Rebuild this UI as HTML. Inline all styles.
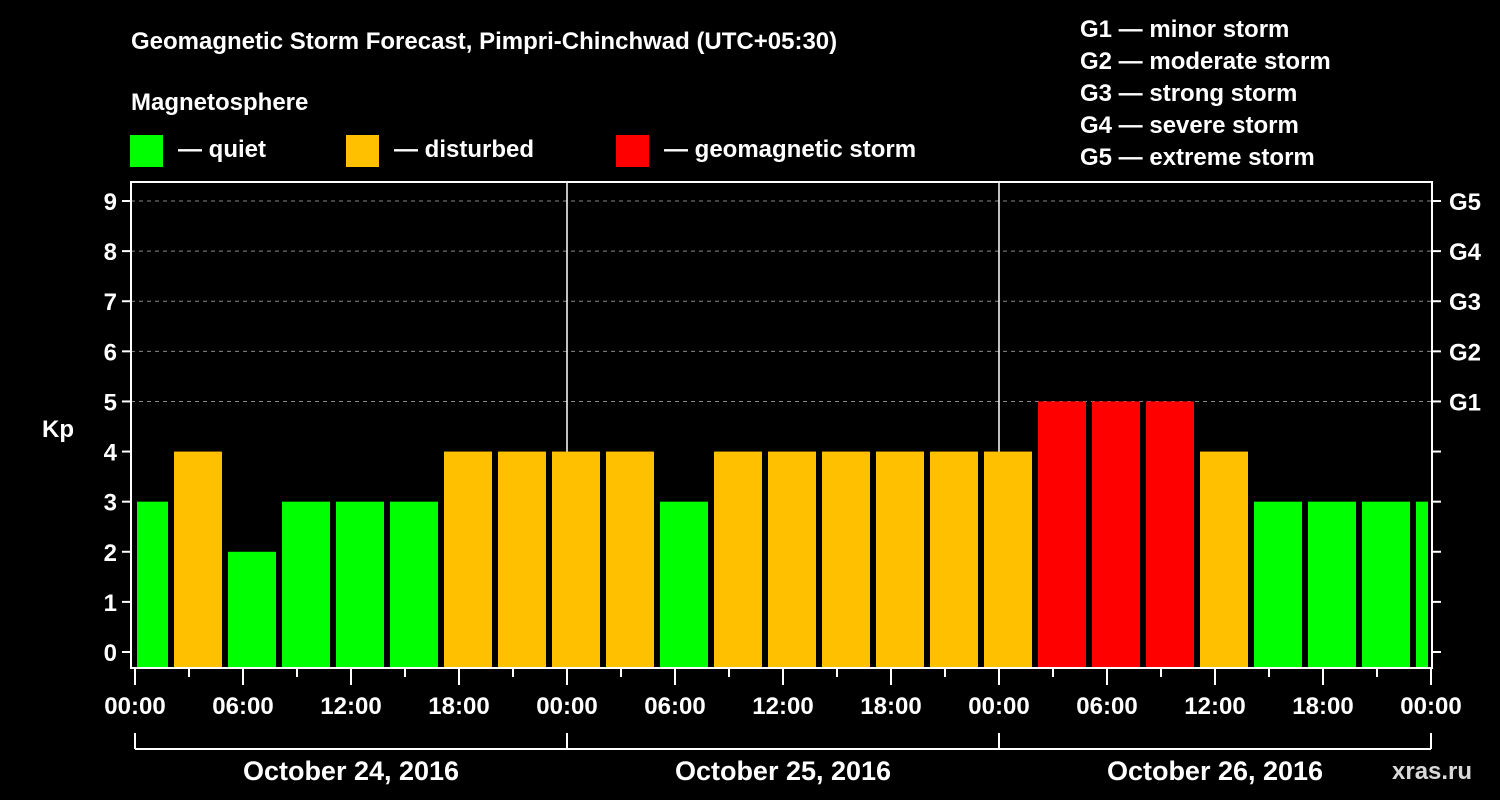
<!DOCTYPE html>
<html><head><meta charset="utf-8"><style>
html,body{margin:0;padding:0;background:#000;}
svg{display:block;font-family:"Liberation Sans",Arial,sans-serif;font-weight:bold;}
</style></head><body>
<svg id="chart" width="1500" height="800" viewBox="0 0 1500 800">
<rect width="1500" height="800" fill="#000"/>
<text x="131" y="49" fill="#fff" font-size="24">Geomagnetic Storm Forecast, Pimpri-Chinchwad (UTC+05:30)</text>
<text x="131" y="110" fill="#fff" font-size="24">Magnetosphere</text>
<g><rect x="130" y="135" width="33" height="32" fill="#00ff00"/><text x="178" y="157" fill="#fff" font-size="24">— quiet</text></g>
<g><rect x="346" y="135" width="33" height="32" fill="#ffc000"/><text x="394" y="157" fill="#fff" font-size="24">— disturbed</text></g>
<g><rect x="616" y="135" width="33" height="32" fill="#ff0000"/><text x="664" y="157" fill="#fff" font-size="24">— geomagnetic storm</text></g>
<g fill="#fff" font-size="24">
<text x="1080" y="37">G1 — minor storm</text>
<text x="1080" y="69">G2 — moderate storm</text>
<text x="1080" y="101">G3 — strong storm</text>
<text x="1080" y="133">G4 — severe storm</text>
<text x="1080" y="165">G5 — extreme storm</text>
</g>
<g id="grid"></g>
<g id="bars"></g>
<g id="axes"></g>
<text x="1392" y="779" fill="#fff" font-size="24" opacity="0.85">xras.ru</text>
</svg>
<script>
const kpValues = [3,4,2,3,3,3,4,4,4,4,3,4,4,4,4,4,4,5,5,5,4,3,3,3,3];
const yTicks = [0,1,2,3,4,5,6,7,8,9];
const gLabels = ["G1","G2","G3","G4","G5"];
const xTickLabels = ["00:00","06:00","12:00","18:00","00:00","06:00","12:00","18:00","00:00","06:00","12:00","18:00","00:00"];
const dateLabels = ["October 24, 2016","October 25, 2016","October 26, 2016"];

const NS="http://www.w3.org/2000/svg";
const PL=131, PR=1432, PT=182, PB=668;
const x0=135, pxPerHour=18;
const y = v => 652 - v*50.11;
const x = h => x0 + h*pxPerHour;
function mk(tag, attrs, parent){const e=document.createElementNS(NS,tag);for(const k in attrs)e.setAttribute(k,attrs[k]);parent.appendChild(e);return e;}
const grid=document.getElementById('grid'), bars=document.getElementById('bars'), axes=document.getElementById('axes');

// gridlines for 5..9
yTicks.forEach(v=>{
  if(v>=5){
    const l=mk('line',{x1:PL,x2:PR,y1:y(v),y2:y(v),stroke:'#888','stroke-dasharray':'4,4','stroke-width':1},grid);
    
    
  }
});
// day separators
[1,2].forEach(d=>{
  const l=mk('line',{x1:x(d*24),x2:x(d*24),y1:PT,y2:PB,stroke:'#fff','stroke-width':1.5},grid);
  
  
});
// bars
kpValues.forEach((v,i)=>{
  const c=x(0.5+3*i);
  let a=c-24, b=c+24;
  a=Math.max(a,137); b=Math.min(b,1428);
  const col = v>=5?'#ff0000':(v>=4?'#ffc000':'#00ff00');
  const r=mk('rect',{x:a,y:y(v),width:b-a,height:PB-y(v),fill:col},bars);
  
  
});
// frame
const fr=mk('rect',{x:PL,y:PT,width:PR-PL,height:PB-PT,fill:'none',stroke:'#fff','stroke-width':2},axes);


// y ticks & labels
yTicks.forEach(v=>{
  mk('line',{x1:PL-9,x2:PL,y1:y(v),y2:y(v),stroke:'#fff','stroke-width':2},axes);
  mk('line',{x1:PR,x2:PR+9,y1:y(v),y2:y(v),stroke:'#fff','stroke-width':2},axes);
  const t=mk('text',{x:PL-14,y:y(v)+9,fill:'#fff','font-size':24,'text-anchor':'end'},axes);
  t.textContent=v;
  
  
});
gLabels.forEach((g,i)=>{
  const t=mk('text',{x:1449,y:y(5+i)+9,fill:'#fff','font-size':24},axes);
  t.textContent=g;
  
  
});
const yt=mk('text',{x:42,y:437,fill:'#fff','font-size':24},axes);
yt.textContent='Kp';


// x ticks
for(let h=0;h<=72;h+=3){
  const major=h%6===0;
  mk('line',{x1:x(h),x2:x(h),y1:PB,y2:major?685:677,stroke:'#fff','stroke-width':2},axes);
}
xTickLabels.forEach((s,i)=>{
  const t=mk('text',{x:x(i*6),y:714,fill:'#fff','font-size':24,'text-anchor':'middle'},axes);
  t.textContent=s;
  
  
});
// date bracket
mk('line',{x1:x(0),x2:x(72),y1:749,y2:749,stroke:'#fff','stroke-width':2},axes);
for(let d=0;d<=3;d++) mk('line',{x1:x(d*24),x2:x(d*24),y1:733,y2:749,stroke:'#fff','stroke-width':2},axes);
dateLabels.forEach((s,i)=>{
  const t=mk('text',{x:x(i*24+12),y:780,fill:'#fff','font-size':27,'text-anchor':'middle'},axes);
  t.textContent=s;
  
  
});
</script>
</body></html>
